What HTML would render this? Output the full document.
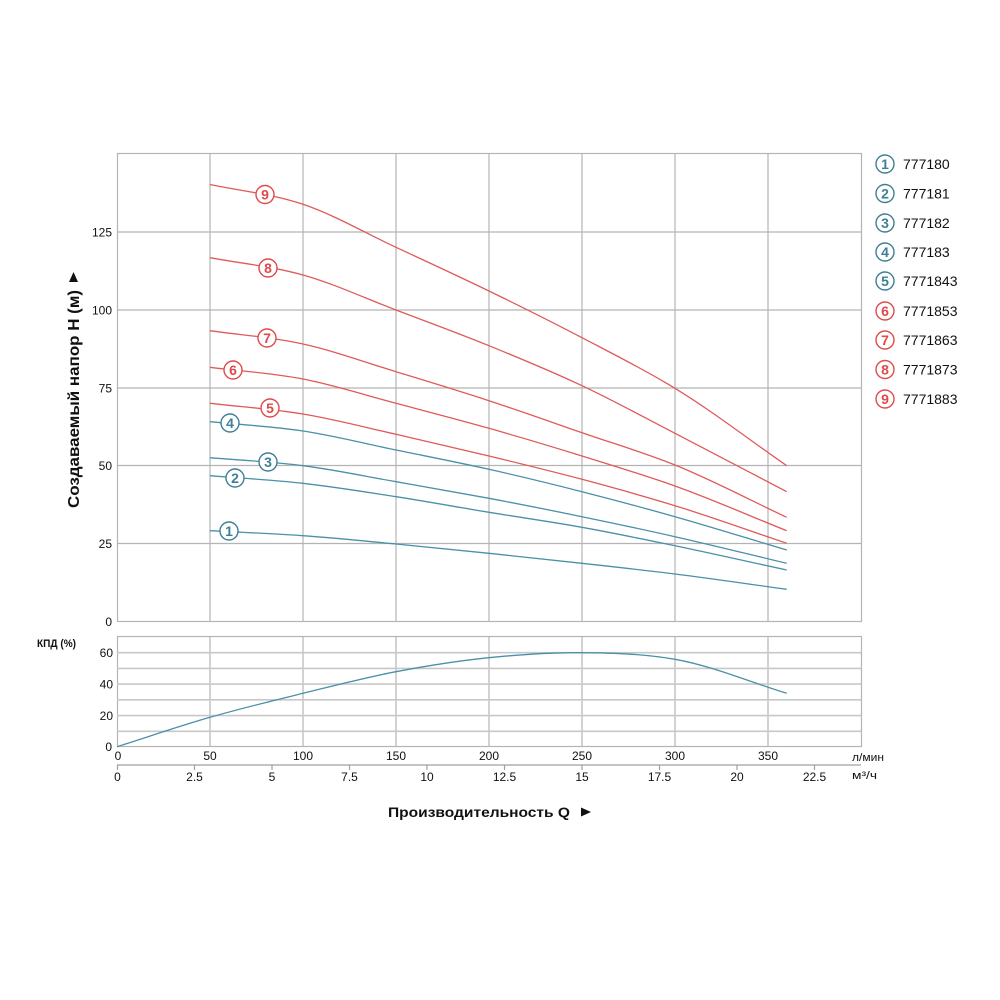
<!DOCTYPE html>
<html><head><meta charset="utf-8"><style>
html,body{margin:0;padding:0;background:#fff;}
svg{display:block;}
text{font-family:"Liberation Sans",Arial,sans-serif;fill:#111;}
</style></head><body>
<svg id="chart" width="1000" height="1000" viewBox="0 0 1000 1000" xmlns="http://www.w3.org/2000/svg">
<rect width="1000" height="1000" fill="#fff"/>
<!-- main plot grid -->
<g stroke="#b4b4b4" stroke-width="1.2" fill="none">
<rect x="117.5" y="153.5" width="744" height="468"/>
<line x1="210" y1="153" x2="210" y2="621"/>
<line x1="303" y1="153" x2="303" y2="621"/>
<line x1="396" y1="153" x2="396" y2="621"/>
<line x1="489" y1="153" x2="489" y2="621"/>
<line x1="582" y1="153" x2="582" y2="621"/>
<line x1="675" y1="153" x2="675" y2="621"/>
<line x1="768" y1="153" x2="768" y2="621"/>
<line x1="117" y1="232" x2="861" y2="232"/>
<line x1="117" y1="310" x2="861" y2="310"/>
<line x1="117" y1="388" x2="861" y2="388"/>
<line x1="117" y1="465.5" x2="861" y2="465.5"/>
<line x1="117" y1="543.5" x2="861" y2="543.5"/>
</g>
<!-- efficiency plot grid -->
<g stroke="#b4b4b4" stroke-width="1.2" fill="none">
<rect x="117.5" y="636.5" width="744" height="110"/>
<line x1="210" y1="636" x2="210" y2="747"/>
<line x1="303" y1="636" x2="303" y2="747"/>
<line x1="396" y1="636" x2="396" y2="747"/>
<line x1="489" y1="636" x2="489" y2="747"/>
<line x1="582" y1="636" x2="582" y2="747"/>
<line x1="675" y1="636" x2="675" y2="747"/>
<line x1="768" y1="636" x2="768" y2="747"/>
</g>
<g stroke="#c8c8c8" stroke-width="1.6" fill="none">
<line x1="117" y1="652.7" x2="861" y2="652.7"/>
<line x1="117" y1="668.4" x2="861" y2="668.4"/>
<line x1="117" y1="684.1" x2="861" y2="684.1"/>
<line x1="117" y1="699.8" x2="861" y2="699.8"/>
<line x1="117" y1="715.6" x2="861" y2="715.6"/>
<line x1="117" y1="731.3" x2="861" y2="731.3"/>
</g>
<!-- m3/h axis -->
<g stroke="#a0a0a0" stroke-width="1.2">
<line x1="117" y1="765" x2="861" y2="765"/>
<line x1="117.5" y1="765" x2="117.5" y2="770"/>
<line x1="194.5" y1="765" x2="194.5" y2="770"/>
<line x1="272" y1="765" x2="272" y2="770"/>
<line x1="349.5" y1="765" x2="349.5" y2="770"/>
<line x1="427" y1="765" x2="427" y2="770"/>
<line x1="504.5" y1="765" x2="504.5" y2="770"/>
<line x1="582" y1="765" x2="582" y2="770"/>
<line x1="659.5" y1="765" x2="659.5" y2="770"/>
<line x1="737" y1="765" x2="737" y2="770"/>
<line x1="814.5" y1="765" x2="814.5" y2="770"/>
</g>
<!-- curves -->
<g id="curves" fill="none" stroke-width="1.3" stroke-linejoin="round">
<polyline stroke="#e05a5a" points="210,184.5 303,204.3 396,247.3 489,291 582,337.7 675,388.3 786.7,465.7"/>
<polyline stroke="#e05a5a" points="210,257.7 303,275 396,310 489,345.7 582,385.7 675,433.3 786.7,491.7"/>
<polyline stroke="#e05a5a" points="210,330.7 303,344 396,371.7 489,400.7 582,432.7 675,465 786.7,517.3"/>
<polyline stroke="#e05a5a" points="210,367.3 303,379 396,403.3 489,428.3 582,456 675,486 786.7,530.7"/>
<polyline stroke="#e05a5a" points="210,403.3 303,414 396,434.3 489,456 582,479.3 675,505.7 786.7,543.3"/>
<polyline stroke="#4a90a8" points="210,421.7 303,431 396,450 489,469.3 582,491.7 675,516.7 786.7,550"/>
<polyline stroke="#4a90a8" points="210,457.7 303,465.7 396,481.7 489,498.3 582,516.7 675,536.7 786.7,563.3"/>
<polyline stroke="#4a90a8" points="210,475.7 303,483.3 396,496.7 489,512.3 582,527.3 675,545.7 786.7,570"/>
<polyline stroke="#4a90a8" points="210,530.7 303,535.7 396,544 489,553.3 582,563.3 675,574 786.7,589.3"/>
<polyline stroke="#4a90a8" points="117,746.7 210,717.3 303,693.3 396,671.7 489,657.7 582,652.7 675,659.3 786.7,693.3"/>
</g>
<!-- curve labels -->
<g stroke-width="1.4" fill="#fff">
<circle cx="265" cy="194.5" r="9" stroke="#e04a4a"/>
<circle cx="268" cy="268" r="9" stroke="#e04a4a"/>
<circle cx="267" cy="338" r="9" stroke="#e04a4a"/>
<circle cx="233" cy="370" r="9" stroke="#e04a4a"/>
<circle cx="270" cy="408" r="9" stroke="#e04a4a"/>
<circle cx="230" cy="423" r="9" stroke="#3f7f95"/>
<circle cx="268" cy="462" r="9" stroke="#3f7f95"/>
<circle cx="235" cy="478" r="9" stroke="#3f7f95"/>
<circle cx="229" cy="531" r="9" stroke="#3f7f95"/>
</g>
<g font-size="14" font-weight="bold" text-anchor="middle">
<text x="265" y="199.5" style="fill:#e04a4a">9</text>
<text x="268" y="273" style="fill:#e04a4a">8</text>
<text x="267" y="343" style="fill:#e04a4a">7</text>
<text x="233" y="375" style="fill:#e04a4a">6</text>
<text x="270" y="413" style="fill:#e04a4a">5</text>
<text x="230" y="428" style="fill:#3f7f95">4</text>
<text x="268" y="467" style="fill:#3f7f95">3</text>
<text x="235" y="483" style="fill:#3f7f95">2</text>
<text x="229" y="536" style="fill:#3f7f95">1</text>
</g>
<!-- legend -->
<g stroke-width="1.4" fill="#fff">
<circle cx="885" cy="164" r="9" stroke="#3f7f95"/>
<circle cx="885" cy="193.5" r="9" stroke="#3f7f95"/>
<circle cx="885" cy="223" r="9" stroke="#3f7f95"/>
<circle cx="885" cy="252" r="9" stroke="#3f7f95"/>
<circle cx="885" cy="281" r="9" stroke="#3f7f95"/>
<circle cx="885" cy="311" r="9" stroke="#e04a4a"/>
<circle cx="885" cy="340" r="9" stroke="#e04a4a"/>
<circle cx="885" cy="369.5" r="9" stroke="#e04a4a"/>
<circle cx="885" cy="399" r="9" stroke="#e04a4a"/>
</g>
<g font-size="14" font-weight="bold" text-anchor="middle">
<text x="885" y="169" style="fill:#3f7f95">1</text>
<text x="885" y="198.5" style="fill:#3f7f95">2</text>
<text x="885" y="228" style="fill:#3f7f95">3</text>
<text x="885" y="257" style="fill:#3f7f95">4</text>
<text x="885" y="286" style="fill:#3f7f95">5</text>
<text x="885" y="316" style="fill:#e04a4a">6</text>
<text x="885" y="345" style="fill:#e04a4a">7</text>
<text x="885" y="374.5" style="fill:#e04a4a">8</text>
<text x="885" y="404" style="fill:#e04a4a">9</text>
</g>
<g font-size="14">
<text x="903" y="169">777180</text>
<text x="903" y="198.5">777181</text>
<text x="903" y="228">777182</text>
<text x="903" y="257">777183</text>
<text x="903" y="286">7771843</text>
<text x="903" y="316">7771853</text>
<text x="903" y="345">7771863</text>
<text x="903" y="374.5">7771873</text>
<text x="903" y="404">7771883</text>
</g>
<!-- y tick labels main -->
<g font-size="12" text-anchor="end">
<text x="112" y="236.5">125</text>
<text x="112" y="314.5">100</text>
<text x="112" y="392.5">75</text>
<text x="112" y="470">50</text>
<text x="112" y="548">25</text>
<text x="112" y="626">0</text>
</g>
<!-- y tick labels efficiency -->
<g font-size="12" text-anchor="end">
<text x="113" y="657">60</text>
<text x="113" y="688.5">40</text>
<text x="113" y="720">20</text>
<text x="112" y="751">0</text>
</g>
<text x="37" y="647" font-size="11" font-weight="bold" textLength="39" lengthAdjust="spacingAndGlyphs">КПД (%)</text>
<!-- x l/min labels -->
<g font-size="12" text-anchor="middle">
<text x="118" y="760">0</text>
<text x="210" y="760">50</text>
<text x="303" y="760">100</text>
<text x="396" y="760">150</text>
<text x="489" y="760">200</text>
<text x="582" y="760">250</text>
<text x="675" y="760">300</text>
<text x="768" y="760">350</text>
</g>
<g font-size="12" text-anchor="middle">
<text x="117.5" y="781">0</text>
<text x="194.5" y="781">2.5</text>
<text x="272" y="781">5</text>
<text x="349.5" y="781">7.5</text>
<text x="427" y="781">10</text>
<text x="504.5" y="781">12.5</text>
<text x="582" y="781">15</text>
<text x="659.5" y="781">17.5</text>
<text x="737" y="781">20</text>
<text x="814.5" y="781">22.5</text>
</g>
<text x="852" y="761" font-size="11" textLength="32" lengthAdjust="spacingAndGlyphs">л/мин</text>
<text x="852" y="779" font-size="11" textLength="25" lengthAdjust="spacingAndGlyphs">м³/ч</text>
<!-- titles -->
<text x="388" y="817" font-size="14" font-weight="bold" textLength="182" lengthAdjust="spacingAndGlyphs">Производительность Q</text>
<polygon points="581,807.5 591,812 581,816.5" fill="#111"/>
<g transform="translate(79,508) rotate(-90)">
<text x="0" y="0" font-size="16" font-weight="bold" textLength="218" lengthAdjust="spacingAndGlyphs">Создаваемый напор H (м)</text>
<polygon points="226,-10 236,-5.5 226,-1" fill="#111"/>
</g>
</svg>
<script>
(function(){
  var ns="http://www.w3.org/2000/svg";
  var pls=document.querySelectorAll('#curves polyline');
  for(var k=0;k<pls.length;k++){
    var pl=pls[k];
    var pts=pl.getAttribute('points').trim().split(/\s+/).map(function(s){var a=s.split(',');return [parseFloat(a[0]),parseFloat(a[1])];});
    var n=pts.length;
    // tangents (slopes dy/dx) using finite differences
    var m=[];
    for(var i=0;i<n;i++){
      if(i===0){m.push((pts[1][1]-pts[0][1])/(pts[1][0]-pts[0][0]));}
      else if(i===n-1){m.push((pts[n-1][1]-pts[n-2][1])/(pts[n-1][0]-pts[n-2][0]));}
      else{
        var s1=(pts[i][1]-pts[i-1][1])/(pts[i][0]-pts[i-1][0]);
        var s2=(pts[i+1][1]-pts[i][1])/(pts[i+1][0]-pts[i][0]);
        var h1=pts[i][0]-pts[i-1][0],h2=pts[i+1][0]-pts[i][0];
        m.push((s1*h2+s2*h1)/(h1+h2));
      }
    }
    var d='M'+pts[0][0]+','+pts[0][1];
    for(var i=0;i<n-1;i++){
      var h=pts[i+1][0]-pts[i][0];
      var c1x=pts[i][0]+h/3,c1y=pts[i][1]+m[i]*h/3;
      var c2x=pts[i+1][0]-h/3,c2y=pts[i+1][1]-m[i+1]*h/3;
      d+=' C'+c1x.toFixed(2)+','+c1y.toFixed(2)+' '+c2x.toFixed(2)+','+c2y.toFixed(2)+' '+pts[i+1][0]+','+pts[i+1][1];
    }
    var path=document.createElementNS(ns,'path');
    path.setAttribute('d',d);
    path.setAttribute('stroke',pl.getAttribute('stroke'));
    pl.parentNode.replaceChild(path,pl);
  }
})();
</script>
</body></html>
